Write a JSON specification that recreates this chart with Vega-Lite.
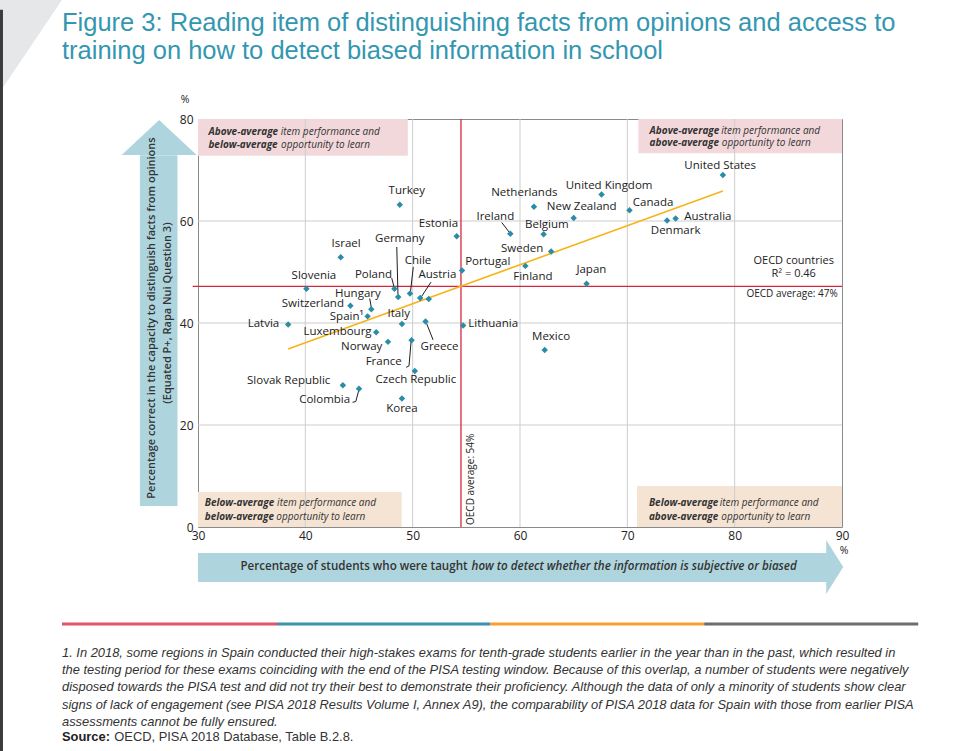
{
  "$schema": "https://vega.github.io/schema/vega-lite/v6.json",
  "width": 644,
  "height": 408,
  "autosize": "none",
  "padding": {"left": 198, "top": 119, "right": 133, "bottom": 224},
  "background": "white",
  "config": {
    "font": "Open Sans",
    "view": {"stroke": "#8a8a8a", "strokeWidth": 1},
    "text": {"font": "Open Sans", "color": "#222222"},
    "axis": {"grid": false, "domain": false, "ticks": false, "labelFontSize": 12, "labelColor": "#222222", "labelFont": "Open Sans"}
  },
  "datasets": {
    "countries": [
      {"country": "Turkey", "x": 48.8, "y": 63.2, "label": "Turkey", "lx": 49.45, "ly": 65.9},
      {"country": "Estonia", "x": 54.1, "y": 57.0, "label": "Estonia", "lx": 52.4, "ly": 59.4},
      {"country": "Ireland", "x": 59.1, "y": 57.5, "label": "Ireland", "lx": 57.7, "ly": 60.8},
      {"country": "Israel", "x": 43.3, "y": 52.9, "label": "Israel", "lx": 43.8, "ly": 55.5},
      {"country": "Portugal", "x": 54.6, "y": 50.3, "label": "Portugal", "lx": 57.0, "ly": 51.9},
      {"country": "Slovenia", "x": 40.1, "y": 46.7, "label": "Slovenia", "lx": 40.8, "ly": 49.3},
      {"country": "Poland", "x": 48.3, "y": 46.7, "label": "Poland", "lx": 46.35, "ly": 49.5},
      {"country": "Germany", "x": 48.65, "y": 45.1, "label": "Germany", "lx": 48.8, "ly": 56.5},
      {"country": "Chile", "x": 49.75, "y": 45.8, "label": "Chile", "lx": 50.5, "ly": 52.2},
      {"country": "Austria", "x": 50.7, "y": 44.9, "label": "Austria", "lx": 52.3, "ly": 49.5},
      {"country": "Iceland", "x": 51.5, "y": 44.7},
      {"country": "Hungary", "x": 46.15, "y": 42.7, "label": "Hungary", "lx": 44.9, "ly": 45.7},
      {"country": "Switzerland", "x": 44.2, "y": 43.4, "label": "Switzerland", "lx": 40.7, "ly": 43.7},
      {"country": "Spain", "x": 45.8, "y": 41.3, "label": "Spain¹", "lx": 43.85, "ly": 41.2},
      {"country": "Italy", "x": 49.0, "y": 39.8, "label": "Italy", "lx": 48.7, "ly": 41.8},
      {"country": "Latvia", "x": 38.4, "y": 39.7, "label": "Latvia", "lx": 36.1, "ly": 39.9},
      {"country": "Lithuania", "x": 54.7, "y": 39.5, "label": "Lithuania", "lx": 57.5, "ly": 39.8},
      {"country": "Greece", "x": 51.2, "y": 40.3, "label": "Greece", "lx": 52.5, "ly": 35.35},
      {"country": "Luxembourg", "x": 46.6, "y": 38.2, "label": "Luxembourg", "lx": 43.0, "ly": 38.2},
      {"country": "Norway", "x": 47.7, "y": 36.3, "label": "Norway", "lx": 45.25, "ly": 35.35},
      {"country": "France", "x": 49.9, "y": 36.6, "label": "France", "lx": 47.3, "ly": 32.35},
      {"country": "Czech Republic", "x": 50.2, "y": 30.6, "label": "Czech Republic", "lx": 50.3, "ly": 28.8},
      {"country": "Slovak Republic", "x": 43.5, "y": 27.8, "label": "Slovak Republic", "lx": 38.45, "ly": 28.6},
      {"country": "Colombia", "x": 45.0, "y": 27.1, "label": "Colombia", "lx": 41.8, "ly": 24.9},
      {"country": "Korea", "x": 49.0, "y": 25.2, "label": "Korea", "lx": 49.0, "ly": 23.1},
      {"country": "United States", "x": 78.9, "y": 69.0, "label": "United States", "lx": 78.65, "ly": 70.85},
      {"country": "United Kingdom", "x": 67.6, "y": 65.2, "label": "United Kingdom", "lx": 68.3, "ly": 66.9},
      {"country": "Netherlands", "x": 61.3, "y": 62.8, "label": "Netherlands", "lx": 60.4, "ly": 65.4},
      {"country": "New Zealand", "x": 65.0, "y": 60.6, "label": "New Zealand", "lx": 65.75, "ly": 62.7},
      {"country": "Canada", "x": 70.2, "y": 62.1, "label": "Canada", "lx": 72.4, "ly": 63.6},
      {"country": "Denmark", "x": 73.7, "y": 60.1, "label": "Denmark", "lx": 74.5, "ly": 58.0},
      {"country": "Australia", "x": 74.5, "y": 60.5, "label": "Australia", "lx": 77.5, "ly": 60.7},
      {"country": "Belgium", "x": 62.2, "y": 57.4, "label": "Belgium", "lx": 62.5, "ly": 59.3},
      {"country": "Sweden", "x": 62.9, "y": 54.0, "label": "Sweden", "lx": 60.2, "ly": 54.6},
      {"country": "Finland", "x": 60.5, "y": 51.2, "label": "Finland", "lx": 61.2, "ly": 49.0},
      {"country": "Japan", "x": 66.2, "y": 47.7, "label": "Japan", "lx": 66.65, "ly": 50.45},
      {"country": "Mexico", "x": 62.3, "y": 34.7, "label": "Mexico", "lx": 62.9, "ly": 37.3}
    ],
    "leaders": [
      {"x": 58.3, "y": 59.7, "x2": 59.0, "y2": 57.8},
      {"x": 48.52, "y": 54.9, "x2": 48.63, "y2": 45.6},
      {"x": 48.05, "y": 48.8, "x2": 48.27, "y2": 47.0},
      {"x": 50.06, "y": 51.0, "x2": 49.8, "y2": 46.2},
      {"x": 51.7, "y": 48.0, "x2": 50.8, "y2": 45.1},
      {"x": 46.0, "y": 44.8, "x2": 46.15, "y2": 43.0},
      {"x": 51.3, "y": 39.9, "x2": 51.9, "y2": 36.7},
      {"x": 49.85, "y": 36.3, "x2": 49.66, "y2": 31.6},
      {"x": 49.66, "y": 31.6, "x2": 49.4, "y2": 31.3},
      {"x": 44.98, "y": 26.8, "x2": 44.7, "y2": 24.6},
      {"x": 44.7, "y": 24.6, "x2": 44.4, "y2": 24.45}
    ],
    "fit": [
      {"x": 38.4, "y": 34.9},
      {"x": 78.9, "y": 65.9}
    ]
  },
  "layer": [
    {
      "data": {"name": "countries"},
      "mark": {"type": "point", "opacity": 0},
      "encoding": {
        "x": {"field": "x", "type": "quantitative", "scale": {"domain": [30, 90], "nice": false, "zero": false},
          "axis": {"values": [30, 40, 50, 60, 70, 80, 90], "grid": false, "domain": false, "ticks": false, "title": null, "labelPadding": 3, "labelFontSize": 12, "labelColor": "#222222", "labelFont": "Open Sans", "labelFlush": false}},
        "y": {"field": "y", "type": "quantitative", "scale": {"domain": [0, 80], "nice": false, "zero": false},
          "axis": {"values": [0, 20, 40, 60, 80], "grid": false, "domain": false, "ticks": false, "title": null, "labelPadding": 5, "labelFontSize": 12, "labelColor": "#222222", "labelFont": "Open Sans", "labelFlush": false}}
      }
    },
    {
      "data": {"values": [{}]},
      "mark": {"type": "point", "shape": "M-1,-1L0.348,-1L-1,1Z", "filled": true, "color": "#e6e7e9", "opacity": 1, "size": 8464},
      "encoding": {
        "x": {"datum": 15.834, "type": "quantitative"},
        "y": {"datum": 94.31, "type": "quantitative"}
      }
    },
    {
      "data": {"values": [{}]},
      "mark": {"type": "rect", "color": "#3b3b3b"},
      "encoding": {
        "x": {"datum": 11.55, "type": "quantitative"},
        "x2": {"datum": 11.83},
        "y": {"datum": 101.4, "type": "quantitative"},
        "y2": {"datum": -43.9}
      }
    },
    {
      "data": {"values": [{}]},
      "mark": {"type": "text", "text": ["Figure 3: Reading item of distinguishing facts from opinions and access to", "training on how to detect biased information in school"], "font": "Liberation Sans", "fontSize": 25.5, "lineHeight": 28, "align": "left", "baseline": "alphabetic", "color": "#3497b1"},
      "encoding": {
        "x": {"datum": 17.33, "type": "quantitative"},
        "y": {"datum": 97.25, "type": "quantitative"}
      }
    },
    {
      "data": {"values": [{"a": 30, "b": 49.55, "c": 72.8, "d": 80}, {"a": 71.03, "b": 90, "c": 73.27, "d": 80}]},
      "mark": {"type": "rect", "color": "#f2d8db"},
      "encoding": {
        "x": {"field": "a", "type": "quantitative"},
        "x2": {"field": "b"},
        "y": {"field": "c", "type": "quantitative"},
        "y2": {"field": "d"}
      }
    },
    {
      "data": {"values": [{"a": 30, "b": 48.98, "c": 0, "d": 6.86}, {"a": 70.9, "b": 90, "c": 0, "d": 8.04}]},
      "mark": {"type": "rect", "color": "#f5e4d4"},
      "encoding": {
        "x": {"field": "a", "type": "quantitative"},
        "x2": {"field": "b"},
        "y": {"field": "c", "type": "quantitative"},
        "y2": {"field": "d"}
      }
    },
    {
      "data": {"values": [{"g": 40}, {"g": 50}, {"g": 60}, {"g": 70}, {"g": 80}]},
      "mark": {"type": "rule", "color": "#cdcdcd", "strokeWidth": 1},
      "encoding": {"x": {"field": "g", "type": "quantitative"}}
    },
    {
      "data": {"values": [{"g": 20}, {"g": 40}, {"g": 60}]},
      "mark": {"type": "rule", "color": "#cdcdcd", "strokeWidth": 1},
      "encoding": {"y": {"field": "g", "type": "quantitative"}}
    },
    {
      "data": {"values": [{}]},
      "mark": {"type": "rect", "color": "#aed5de"},
      "encoding": {
        "x": {"datum": 30, "type": "quantitative"},
        "x2": {"datum": 88.6},
        "y": {"datum": -5.1, "type": "quantitative"},
        "y2": {"datum": -10.78}
      }
    },
    {
      "data": {"values": [{}]},
      "mark": {"type": "point", "shape": "M-0.315,-1L0.315,0L-0.315,1Z", "filled": true, "color": "#aed5de", "opacity": 1, "size": 2916},
      "encoding": {
        "x": {"datum": 89.32, "type": "quantitative"},
        "y": {"datum": -7.84, "type": "quantitative"}
      }
    },
    {
      "data": {"values": [{}]},
      "mark": {"type": "rect", "color": "#aed5de"},
      "encoding": {
        "x": {"datum": 24.59, "type": "quantitative"},
        "x2": {"datum": 28.09},
        "y": {"datum": 4.12, "type": "quantitative"},
        "y2": {"datum": 72.9}
      }
    },
    {
      "data": {"values": [{}]},
      "mark": {"type": "point", "shape": "M-1,0.467L0,-0.467L1,0.467Z", "filled": true, "color": "#aed5de", "opacity": 1, "size": 5625},
      "encoding": {
        "x": {"datum": 26.38, "type": "quantitative"},
        "y": {"datum": 76.37, "type": "quantitative"}
      }
    },
    {
      "data": {"values": [{}]},
      "mark": {"type": "rule", "color": "#d2283f", "strokeWidth": 1.3},
      "encoding": {"x": {"datum": 54.5, "type": "quantitative"}}
    },
    {
      "data": {"values": [{}]},
      "mark": {"type": "rule", "color": "#d2283f", "strokeWidth": 1.3},
      "encoding": {
        "x": {"datum": 29.5, "type": "quantitative"},
        "x2": {"datum": 90},
        "y": {"datum": 47.2, "type": "quantitative"}
      }
    },
    {
      "data": {"name": "fit"},
      "mark": {"type": "line", "color": "#f6b418", "strokeWidth": 1.6},
      "encoding": {
        "x": {"field": "x", "type": "quantitative"},
        "y": {"field": "y", "type": "quantitative"}
      }
    },
    {
      "data": {"name": "leaders"},
      "mark": {"type": "rule", "color": "#1e1e1e", "strokeWidth": 1},
      "encoding": {
        "x": {"field": "x", "type": "quantitative"},
        "y": {"field": "y", "type": "quantitative"},
        "x2": {"field": "x2"},
        "y2": {"field": "y2"}
      }
    },
    {
      "data": {"name": "countries"},
      "mark": {"type": "point", "shape": "diamond", "filled": true, "color": "#2b8ca5", "opacity": 1, "size": 42},
      "encoding": {
        "x": {"field": "x", "type": "quantitative"},
        "y": {"field": "y", "type": "quantitative"},
        "tooltip": {"field": "country"}
      }
    },
    {
      "data": {"name": "countries"},
      "transform": [{"filter": "isValid(datum.label)"}],
      "mark": {"type": "text", "fontSize": 11.5, "align": "center", "baseline": "middle", "color": "#222222"},
      "encoding": {
        "x": {"field": "lx", "type": "quantitative"},
        "y": {"field": "ly", "type": "quantitative"},
        "text": {"field": "label"}
      }
    },
    {
      "data": {"values": [
        {"t": "Above-average", "x": 30.97, "y": 77.39},
        {"t": "below-average", "x": 30.97, "y": 74.9},
        {"t": "Above-average", "x": 72.07, "y": 77.71},
        {"t": "above-average", "x": 72.07, "y": 75.24},
        {"t": "Below-average", "x": 30.63, "y": 4.65},
        {"t": "below-average", "x": 30.63, "y": 2.02},
        {"t": "Below-average", "x": 72.01, "y": 4.65},
        {"t": "above-average", "x": 72.01, "y": 2.02}
      ]},
      "mark": {"type": "text", "fontSize": 10, "fontStyle": "italic", "fontWeight": "bold", "align": "left", "baseline": "middle", "color": "#333333"},
      "encoding": {
        "x": {"field": "x", "type": "quantitative"},
        "y": {"field": "y", "type": "quantitative"},
        "text": {"field": "t"}
      }
    },
    {
      "data": {"values": [
        {"t": "item performance and", "x": 37.71, "y": 77.39},
        {"t": "opportunity to learn", "x": 37.74, "y": 74.9},
        {"t": "item performance and", "x": 78.74, "y": 77.71},
        {"t": "opportunity to learn", "x": 78.8, "y": 75.24},
        {"t": "item performance and", "x": 37.37, "y": 4.65},
        {"t": "opportunity to learn", "x": 37.3, "y": 2.02},
        {"t": "item performance and", "x": 78.6, "y": 4.65},
        {"t": "opportunity to learn", "x": 78.75, "y": 2.02}
      ]},
      "mark": {"type": "text", "fontSize": 10, "fontStyle": "italic", "fontWeight": "normal", "align": "left", "baseline": "middle", "color": "#333333"},
      "encoding": {
        "x": {"field": "x", "type": "quantitative"},
        "y": {"field": "y", "type": "quantitative"},
        "text": {"field": "t"}
      }
    },
    {
      "data": {"values": [{}]},
      "mark": {"type": "text", "text": ["OECD countries", "R² = 0.46"], "fontSize": 11, "align": "center", "baseline": "middle", "lineHeight": 13.5, "color": "#222222"},
      "encoding": {
        "x": {"datum": 85.5, "type": "quantitative"},
        "y": {"datum": 52.25, "type": "quantitative"}
      }
    },
    {
      "data": {"values": [{}]},
      "mark": {"type": "text", "text": "OECD average: 47%", "fontSize": 10, "align": "right", "baseline": "middle", "color": "#222222"},
      "encoding": {
        "x": {"datum": 89.6, "type": "quantitative"},
        "y": {"datum": 45.6, "type": "quantitative"}
      }
    },
    {
      "data": {"values": [{}]},
      "mark": {"type": "text", "text": "OECD average: 54%", "fontSize": 10, "angle": 270, "align": "left", "baseline": "middle", "color": "#222222"},
      "encoding": {
        "x": {"datum": 55.44, "type": "quantitative"},
        "y": {"datum": 0.4, "type": "quantitative"}
      }
    },
    {
      "data": {"values": [{}]},
      "mark": {"type": "text", "text": "Percentage correct in the capacity to distinguish facts from opinions", "fontSize": 11, "fontWeight": 600, "angle": 270, "align": "center", "baseline": "middle", "color": "#333333"},
      "encoding": {
        "x": {"datum": 25.74, "type": "quantitative"},
        "y": {"datum": 40.98, "type": "quantitative"}
      }
    },
    {
      "data": {"values": [{}]},
      "mark": {"type": "text", "text": "(Equated P+, Rapa Nui Question 3)", "fontSize": 11, "fontWeight": 600, "angle": 270, "align": "center", "baseline": "middle", "color": "#333333"},
      "encoding": {
        "x": {"datum": 27.23, "type": "quantitative"},
        "y": {"datum": 41.96, "type": "quantitative"}
      }
    },
    {
      "data": {"values": [{}]},
      "mark": {"type": "text", "text": "Percentage of students who were taught", "fontSize": 11.6, "fontWeight": 600, "align": "right", "baseline": "middle", "color": "#333333"},
      "encoding": {
        "x": {"datum": 55.12, "type": "quantitative"},
        "y": {"datum": -7.84, "type": "quantitative"}
      }
    },
    {
      "data": {"values": [{}]},
      "mark": {"type": "text", "text": "how to detect whether the information is subjective or biased", "fontSize": 11.6, "fontWeight": 600, "fontStyle": "italic", "align": "left", "baseline": "middle", "color": "#333333"},
      "encoding": {
        "x": {"datum": 55.49, "type": "quantitative"},
        "y": {"datum": -7.84, "type": "quantitative"}
      }
    },
    {
      "data": {"values": [{"x": 28.79, "y": 83.73}, {"x": 90.2, "y": -4.7}]},
      "mark": {"type": "text", "text": "%", "fontSize": 10.5, "align": "center", "baseline": "middle", "color": "#222222"},
      "encoding": {
        "x": {"field": "x", "type": "quantitative"},
        "y": {"field": "y", "type": "quantitative"}
      }
    },
    {
      "data": {"values": [
        {"s": "a", "xa": 17.33, "xb": 37.36},
        {"s": "b", "xa": 37.36, "xb": 57.21},
        {"s": "c", "xa": 57.21, "xb": 77.16},
        {"s": "d", "xa": 77.16, "xb": 97.1}
      ]},
      "mark": {"type": "rule", "strokeWidth": 3},
      "encoding": {
        "x": {"field": "xa", "type": "quantitative"},
        "x2": {"field": "xb"},
        "y": {"datum": -19.02, "type": "quantitative"},
        "color": {"field": "s", "type": "nominal", "legend": null, "scale": {"domain": ["a", "b", "c", "d"], "range": ["#e5506a", "#3a93aa", "#f7a030", "#6e6d69"]}}
      }
    },
    {
      "data": {"values": [{}]},
      "mark": {"type": "text", "text": [
        "1. In 2018, some regions in Spain conducted their high-stakes exams for tenth-grade students earlier in the year than in the past, which resulted in",
        "the testing period for these exams coinciding with the end of the PISA testing window. Because of this overlap, a number of students were negatively",
        "disposed towards the PISA test and did not try their best to demonstrate their proficiency. Although the data of only a minority of students show clear",
        "signs of lack of engagement (see PISA 2018 Results Volume I, Annex A9), the comparability of PISA 2018 data for Spain with those from earlier PISA",
        "assessments cannot be fully ensured."
      ], "font": "Liberation Sans", "fontStyle": "italic", "fontSize": 12.9, "lineHeight": 17.2, "align": "left", "baseline": "alphabetic", "color": "#333333"},
      "encoding": {
        "x": {"datum": 17.33, "type": "quantitative"},
        "y": {"datum": -25.49, "type": "quantitative"}
      }
    },
    {
      "data": {"values": [{}]},
      "mark": {"type": "text", "text": "Source:", "font": "Liberation Sans", "fontWeight": "bold", "fontSize": 12.9, "align": "left", "baseline": "alphabetic", "color": "#222222"},
      "encoding": {
        "x": {"datum": 17.33, "type": "quantitative"},
        "y": {"datum": -41.96, "type": "quantitative"}
      }
    },
    {
      "data": {"values": [{}]},
      "mark": {"type": "text", "text": "OECD, PISA 2018 Database, Table B.2.8.", "font": "Liberation Sans", "fontSize": 12.9, "align": "left", "baseline": "alphabetic", "color": "#333333"},
      "encoding": {
        "x": {"datum": 22.2, "type": "quantitative"},
        "y": {"datum": -41.96, "type": "quantitative"}
      }
    }
  ]
}
